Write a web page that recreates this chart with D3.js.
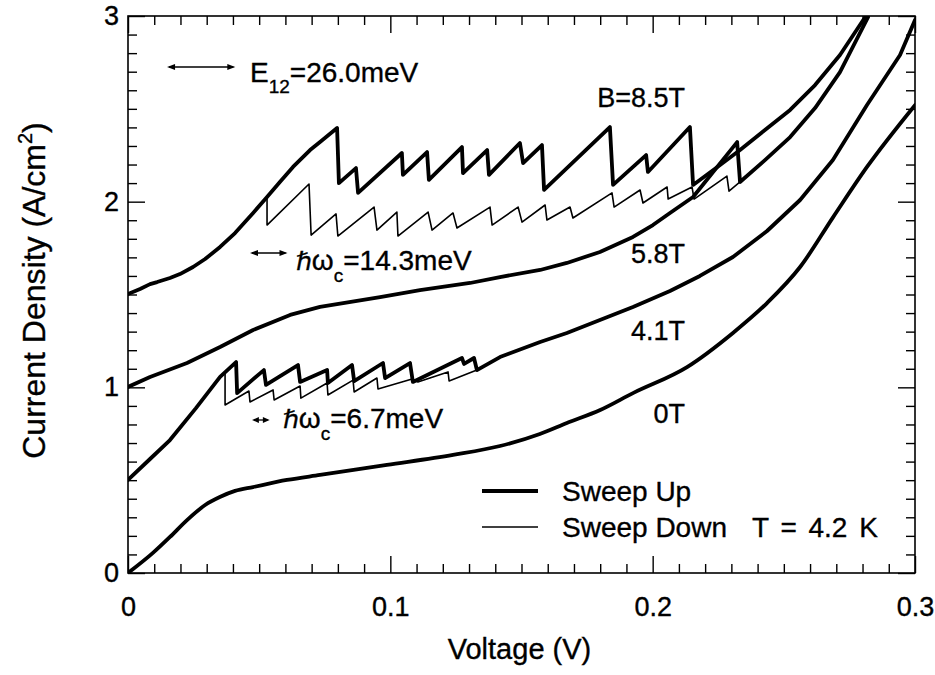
<!DOCTYPE html>
<html>
<head>
<meta charset="utf-8">
<script src="https://cdn.jsdelivr.net/npm/d3@7"></script>
<style>
  body { margin: 0; background: #fff; }
  svg { display: block; }
  text { font-family: "Liberation Sans", Arial, Helvetica, sans-serif; fill: #000; stroke: #000; stroke-width: 0.35px; }
</style>
</head>
<body>
<svg id="chart" width="935" height="675"></svg>
<script>
// ---- axis values ----
const xMajorTicks = [0, 0.1, 0.2, 0.3];
const xTickLabels = ["0", "0.1", "0.2", "0.3"];
const yMajorTicks = [0, 1, 2, 3];
const yTickLabels = ["0", "1", "2", "3"];

// ---- I–V curves: [voltage (V), current density (A/cm^2)] ----
const curve0T = [
  [0, 0], [0.0095, 0.108], [0.016, 0.194], [0.0225, 0.285], [0.0294, 0.366],
  [0.035, 0.409], [0.0408, 0.442], [0.0477, 0.463], [0.0606, 0.501], [0.0732, 0.528],
  [0.0987, 0.582], [0.1239, 0.636], [0.1418, 0.684], [0.157, 0.749], [0.1673, 0.808],
  [0.18, 0.878], [0.1925, 0.969], [0.2131, 1.109], [0.2306, 1.293], [0.2436, 1.454],
  [0.2562, 1.648], [0.2688, 1.917], [0.2817, 2.187], [0.3, 2.52]
];

const curve41Up = [
  [0, 0.501], [0.0084, 0.614], [0.016, 0.716], [0.0259, 0.888],
  [0.0351, 1.056], [0.0412, 1.136], [0.0416, 0.969], [0.0518, 1.093],
  [0.0526, 1.013], [0.0648, 1.12], [0.0656, 1.029], [0.0759, 1.093], [0.0762, 1.023],
  [0.0854, 1.12], [0.0862, 1.034], [0.0972, 1.131], [0.098, 1.05], [0.1075, 1.131],
  [0.1086, 1.029], [0.1273, 1.158], [0.1281, 1.126], [0.1319, 1.158], [0.133, 1.093],
  [0.1418, 1.163], [0.1571, 1.244], [0.1673, 1.293], [0.1799, 1.363], [0.1925, 1.433],
  [0.2066, 1.519], [0.218, 1.6], [0.2306, 1.702], [0.2436, 1.842], [0.2562, 2.009],
  [0.2687, 2.224], [0.2817, 2.521], [0.2943, 2.79], [0.3, 2.978]
];

const curve41Down = [
  [0.0351, 1.056], [0.037, 1.082], [0.037, 0.905], [0.0461, 0.98], [0.0465, 0.921],
  [0.0553, 0.986], [0.0557, 0.932], [0.0656, 1.007], [0.0659, 0.942], [0.0759, 1.023],
  [0.0762, 0.959], [0.0858, 1.039], [0.0862, 0.975], [0.0949, 1.05], [0.0953, 0.991],
  [0.1083, 1.045], [0.1105, 1.029], [0.122, 1.083], [0.1224, 1.034], [0.133, 1.093],
  [0.1418, 1.163]
];

const curve58Up = [
  [0, 1.002], [0.0084, 1.056], [0.0225, 1.131], [0.0351, 1.217], [0.0477, 1.309],
  [0.0618, 1.39], [0.0732, 1.433], [0.0961, 1.486], [0.1113, 1.524], [0.1304, 1.562],
  [0.1418, 1.594], [0.1571, 1.632], [0.1673, 1.67], [0.1799, 1.729], [0.1925, 1.81],
  [0.2001, 1.874], [0.2066, 1.939], [0.2154, 2.025], [0.2322, 2.321], [0.2333, 2.106],
  [0.2428, 2.224], [0.2524, 2.348], [0.2619, 2.504], [0.2714, 2.698], [0.2821, 2.994]
];

const curve85Up = [
  [0, 1.503], [0.0046, 1.53], [0.0084, 1.556], [0.0111, 1.567], [0.016, 1.589],
  [0.0198, 1.61], [0.0248, 1.648], [0.0294, 1.691], [0.0351, 1.756], [0.0408, 1.831],
  [0.0477, 1.939], [0.053, 2.025], [0.0579, 2.106], [0.0629, 2.187], [0.0694, 2.278],
  [0.0732, 2.321], [0.0797, 2.397], [0.0804, 2.1], [0.0869, 2.181], [0.0877, 2.047],
  [0.1044, 2.262], [0.1048, 2.144], [0.114, 2.267], [0.1147, 2.117], [0.1273, 2.294],
  [0.1277, 2.154], [0.1369, 2.278], [0.1376, 2.144], [0.1494, 2.316], [0.1506, 2.208],
  [0.1578, 2.305], [0.1586, 2.063], [0.1837, 2.402], [0.1849, 2.09], [0.1975, 2.251],
  [0.1982, 2.16], [0.2142, 2.402], [0.2154, 2.09], [0.2257, 2.197], [0.2333, 2.278],
  [0.2428, 2.386], [0.2524, 2.494], [0.2619, 2.628], [0.2714, 2.79], [0.2813, 3.0]
];

const curve85Down = [
  [0.053, 2.025], [0.053, 1.874], [0.069, 2.095], [0.0698, 1.82], [0.0793, 1.934],
  [0.08, 1.815], [0.0938, 1.971], [0.0949, 1.847], [0.1025, 1.944], [0.1029, 1.815],
  [0.1144, 1.944], [0.1159, 1.847], [0.1239, 1.939], [0.1254, 1.858], [0.138, 1.971],
  [0.1388, 1.874], [0.1487, 1.971], [0.1502, 1.89], [0.159, 1.982], [0.1597, 1.901],
  [0.1685, 1.971], [0.1696, 1.912], [0.1845, 2.047], [0.1853, 1.971], [0.1952, 2.063],
  [0.1963, 1.993], [0.2055, 2.079], [0.2059, 2.014], [0.215, 2.079], [0.2158, 2.014],
  [0.2283, 2.138], [0.2291, 2.057], [0.2333, 2.106]
];

// ---- annotations ----
const fieldLabels = ["B=8.5T", "5.8T", "4.1T", "0T"];
const energyValues = [26.0, 14.3, 6.7];   // meV, drawn as voltage spans
const legendLabels = ["Sweep Up", "Sweep Down"];
const tempLabel = "T = 4.2 K";

// ---- layout ----
const W = 935, H = 675;
const plot = { left: 128, right: 915, top: 16, bottom: 573 };
const thick = 3.8, thin = 1.6;
const FONT = '"Liberation Sans", Arial, Helvetica, sans-serif';

const svg = d3.select("#chart");
svg.append("rect").attr("width", W).attr("height", H).attr("fill", "#fff");

const x = d3.scaleLinear().domain([0, 0.3]).range([plot.left, plot.right]);
const y = d3.scaleLinear().domain([0, 3]).range([plot.bottom, plot.top]);

const xMinor = d3.range(0, 31).map(i => i / 100).filter(v => !xMajorTicks.some(m => Math.abs(m - v) < 1e-9));
const yMinor = d3.range(0, 31).map(i => i / 10).filter(v => !yMajorTicks.some(m => Math.abs(m - v) < 1e-9));

svg.append("clipPath").attr("id", "plotClip")
  .append("rect")
  .attr("x", plot.left).attr("y", plot.top)
  .attr("width", plot.right - plot.left).attr("height", plot.bottom - plot.top);

// ---- axes (ticks pointing inward on all four sides) ----
const majorLen = 17, minorLen = 9;
function styleAxis(g) {
  g.select(".domain").remove();
  g.selectAll(".tick line").attr("stroke", "#000").attr("stroke-width", 1.4);
  g.selectAll("text").attr("font-size", 27).attr("font-family", FONT).attr("fill", "#000");
}

// bottom
svg.append("g").attr("transform", `translate(0,${plot.bottom})`)
  .call(d3.axisBottom(x).tickValues(xMinor).tickSize(-minorLen).tickFormat(""))
  .call(styleAxis);
svg.append("g").attr("transform", `translate(0,${plot.bottom})`)
  .call(d3.axisBottom(x).tickValues(xMajorTicks).tickSize(-majorLen).tickPadding(24)
    .tickFormat((d, i) => xTickLabels[i]))
  .call(styleAxis);
// top
svg.append("g").attr("transform", `translate(0,${plot.top})`)
  .call(d3.axisTop(x).tickValues(xMinor).tickSize(-minorLen).tickFormat(""))
  .call(styleAxis);
svg.append("g").attr("transform", `translate(0,${plot.top})`)
  .call(d3.axisTop(x).tickValues(xMajorTicks).tickSize(-majorLen).tickFormat(""))
  .call(styleAxis);
// left
svg.append("g").attr("transform", `translate(${plot.left},0)`)
  .call(d3.axisLeft(y).tickValues(yMinor).tickSize(-minorLen).tickFormat(""))
  .call(styleAxis);
svg.append("g").attr("transform", `translate(${plot.left},0)`)
  .call(d3.axisLeft(y).tickValues(yMajorTicks).tickSize(-majorLen).tickPadding(9)
    .tickFormat((d, i) => yTickLabels[i]))
  .call(styleAxis);
// right
svg.append("g").attr("transform", `translate(${plot.right},0)`)
  .call(d3.axisRight(y).tickValues(yMinor).tickSize(-minorLen).tickFormat(""))
  .call(styleAxis);
svg.append("g").attr("transform", `translate(${plot.right},0)`)
  .call(d3.axisRight(y).tickValues(yMajorTicks).tickSize(-majorLen).tickFormat(""))
  .call(styleAxis);

// frame
svg.append("rect")
  .attr("x", plot.left).attr("y", plot.top)
  .attr("width", plot.right - plot.left).attr("height", plot.bottom - plot.top)
  .attr("fill", "none").attr("stroke", "#000").attr("stroke-width", 1.6);

// axis titles
svg.append("text")
  .attr("x", (plot.left + plot.right) / 2 - 2).attr("y", 659)
  .attr("text-anchor", "middle").attr("font-size", 29)
  .text("Voltage (V)");

const yTitle = svg.append("text")
  .attr("transform", `translate(45,${(plot.top + plot.bottom) / 2 - 4}) rotate(-90)`)
  .attr("text-anchor", "middle").attr("font-size", 32);
yTitle.append("tspan").text("Current Density (A/cm");
yTitle.append("tspan").attr("font-size", 20).attr("dy", -13).text("2");
yTitle.append("tspan").attr("dy", 13).text(")");

// ---- data lines ----
const line = d3.line().x(d => x(d[0])).y(d => y(d[1])).curve(d3.curveLinear);
const smooth = d3.line().x(d => x(d[0])).y(d => y(d[1])).curve(d3.curveMonotoneX);
const lines = svg.append("g").attr("clip-path", "url(#plotClip)")
  .attr("fill", "none").attr("stroke", "#000")
  .attr("stroke-linejoin", "round").attr("stroke-linecap", "round");

// sweep-down branches first, sweep-up (thick) on top
[curve41Down, curve85Down].forEach(c =>
  lines.append("path").attr("d", line(c)).attr("stroke-width", thin));
lines.append("path").attr("d", smooth(curve0T)).attr("stroke-width", thick);
[curve41Up, curve58Up, curve85Up].forEach(c =>
  lines.append("path").attr("d", line(c)).attr("stroke-width", thick));

// ---- field labels ----
const labelFont = 27;
const labelPos = [[685, 107], [685, 263], [685, 340], [685, 423]];
fieldLabels.forEach((t, i) => {
  svg.append("text").attr("x", labelPos[i][0]).attr("y", labelPos[i][1])
    .attr("text-anchor", "end").attr("font-size", labelFont).text(t);
});

// ---- energy scale arrows (length = energy expressed in volts) ----
function hArrow(v0, py, meV) {
  const x0 = x(v0), x1 = x(v0 + meV / 1000);
  const g = svg.append("g").attr("stroke", "#000").attr("fill", "#000");
  g.append("line").attr("x1", x0 + 2).attr("x2", x1 - 2).attr("y1", py).attr("y2", py).attr("stroke-width", 1.3);
  const hl = Math.min(8, (x1 - x0) / 2.6), hw = 3;
  g.append("path").attr("stroke", "none")
    .attr("d", `M${x0},${py} L${x0 + hl},${py - hw} L${x0 + hl},${py + hw} Z`);
  g.append("path").attr("stroke", "none")
    .attr("d", `M${x1},${py} L${x1 - hl},${py - hw} L${x1 - hl},${py + hw} Z`);
}

// E12
hArrow(0.0149, 67, energyValues[0]);
const e12 = svg.append("text").attr("x", 250).attr("y", 82).attr("font-size", 28);
e12.append("tspan").text("E");
e12.append("tspan").attr("font-size", 19).attr("dy", 11).text("12");
e12.append("tspan").attr("dy", -11).text(`=${energyValues[0].toFixed(1)}meV`);

// hbar omega_c labels
function hwLabel(px, py, val) {
  const t = svg.append("text").attr("x", px).attr("y", py).attr("font-size", 28);
  t.append("tspan").attr("font-family", '"DejaVu Sans", sans-serif').attr("font-size", 25).text("\u210F");
  t.append("tspan").text("\u03C9");
  t.append("tspan").attr("font-size", 19).attr("dy", 12).text("c");
  t.append("tspan").attr("dy", -12).text(`=${val.toFixed(1)}meV`);
}
hArrow(0.0465, 253, energyValues[1]);
hwLabel(296, 270, energyValues[1]);
hArrow(0.0473, 420, energyValues[2]);
hwLabel(283, 428, energyValues[2]);

// ---- legend ----
const legY = [491, 527];
svg.append("line").attr("x1", 482).attr("x2", 538).attr("y1", legY[0]).attr("y2", legY[0])
  .attr("stroke", "#000").attr("stroke-width", thick);
svg.append("line").attr("x1", 482).attr("x2", 538).attr("y1", legY[1]).attr("y2", legY[1])
  .attr("stroke", "#000").attr("stroke-width", thin);
legendLabels.forEach((t, i) => {
  svg.append("text").attr("x", 562).attr("y", legY[i] + 10).attr("font-size", 28).text(t);
});
svg.append("text").attr("x", 752).attr("y", legY[1] + 10).attr("font-size", 28)
  .attr("word-spacing", 4).text(tempLabel);
</script>
</body>
</html>
